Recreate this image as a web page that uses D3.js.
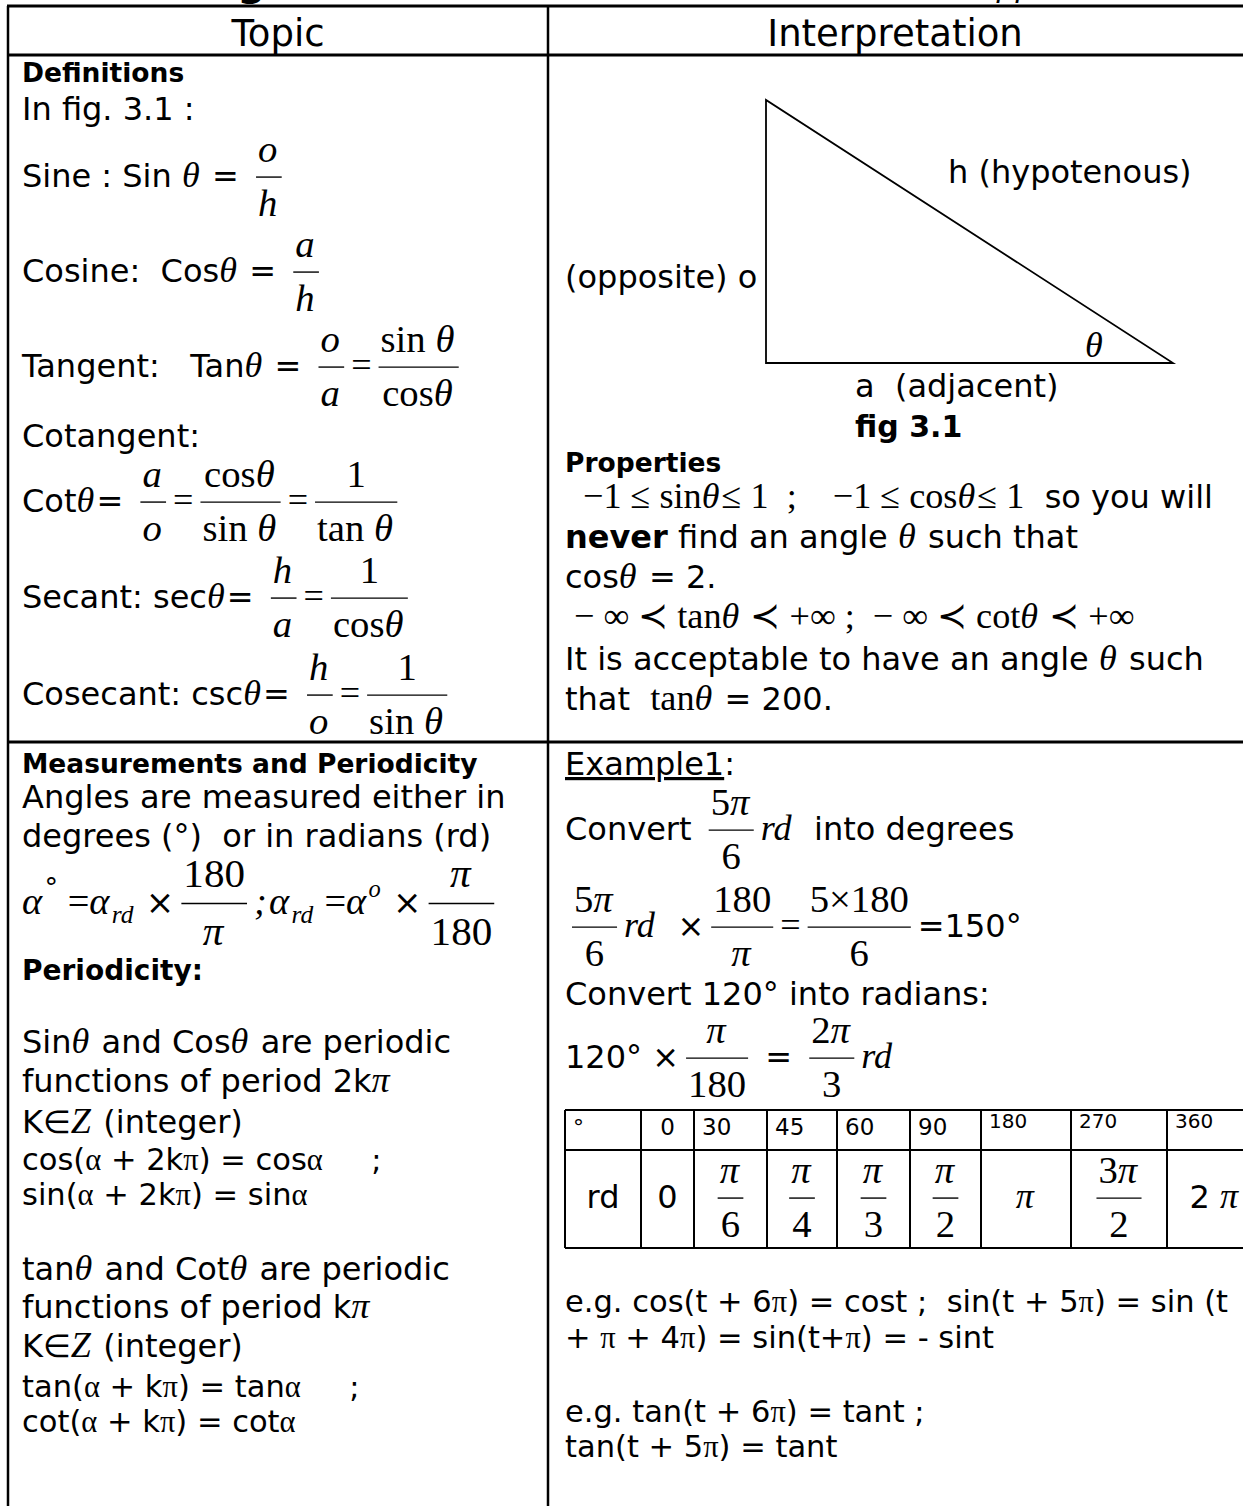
<!DOCTYPE html>
<html>
<head>
<meta charset="utf-8">
<script src="https://cdn.jsdelivr.net/npm/d3@7"></script>
<style>
  body { margin: 0; background: #fff; }
</style>
</head>
<body>
<script>
var W = 1243, H = 1506;

// token helpers
var I = function (t) { return {t: t, f: 'it'}; };     // math italic
var R = function (t) { return {t: t, f: 'rm'}; };     // math roman
var B = function (t) { return {t: t, f: 'b'}; };      // bold text
var U = function (t) { return {t: t, f: 'u'}; };      // underlined text
var Y = function (t) { return {t: t, f: 'sym'}; };    // symbol greek in text
var SUB = function (t) { return {t: t, f: 'sub'}; };
var SUPI = function (t) { return {t: t, f: 'supi'}; };
var SUP = function (t) { return {t: t, f: 'sup'}; };
var F = function (num, den) { return {num: num, den: den}; };

// ---- content ----
var pageTitle = ['Trigonometric', 'Applied'];
var headers = ['Topic', 'Interpretation'];

var definitionLines = [
  ['Definitions'],
  ['In fig. 3.1 :'],
  ['Sine : Sin ', I('θ'), ' = ', F([I('o')], [I('h')])],
  ['Cosine:  Cos', I('θ'), ' = ', F([I('a')], [I('h')])],
  ['Tangent:   Tan', I('θ'), ' = ', F([I('o')], [I('a')]), R('='), F([R('sin '), I('θ')], [R('cos'), I('θ')])],
  ['Cotangent:'],
  ['Cot', I('θ'), '= ', F([I('a')], [I('o')]), R('='), F([R('cos'), I('θ')], [R('sin '), I('θ')]), R('='), F([R('1')], [R('tan '), I('θ')])],
  ['Secant: sec', I('θ'), '= ', F([I('h')], [I('a')]), R('='), F([R('1')], [R('cos'), I('θ')])],
  ['Cosecant: csc', I('θ'), '= ', F([I('h')], [I('o')]), R('='), F([R('1')], [R('sin '), I('θ')])]
];

var periodLines = [
  ['Measurements and Periodicity'],
  ['Angles are measured either in'],
  ['degrees (°)  or in radians (rd)'],
  [I('α'), SUP('°'), R(' ='), I('α'), SUB('rd'), ' ×', F([R('180')], [I('π')]), I(';'), I('α'), SUB('rd'), R(' ='), I('α'), SUPI('o'), ' ×', F([I('π')], [R('180')])],
  ['Periodicity:'],
  ['Sin', I('θ'), ' and Cos', I('θ'), ' are periodic'],
  ['functions of period 2k', I('π')],
  ['K∈', I('Z'), ' (integer)'],
  ['cos(', Y('α'), ' + 2k', Y('π'), ') = cos', Y('α'), '     ;'],
  ['sin(', Y('α'), ' + 2k', Y('π'), ') = sin', Y('α')],
  ['tan', I('θ'), ' and Cot', I('θ'), ' are periodic'],
  ['functions of period k', I('π')],
  ['K∈', I('Z'), ' (integer)'],
  ['tan(', Y('α'), ' + k', Y('π'), ') = tan', Y('α'), '     ;'],
  ['cot(', Y('α'), ' + k', Y('π'), ') = cot', Y('α')]
];

var figureLabels = ['h (hypotenous)', '(opposite) o', 'θ', 'a  (adjacent)', 'fig 3.1'];
var triangle = [[0, 1], [0, 0], [1, 0]];   // opposite side up, adjacent side right

var propertyLines = [
  ['Properties'],
  [R('  −1 ≤ sin'), I('θ'), R('≤ 1  ;    −1 ≤ cos'), I('θ'), R('≤ 1'), '  so you will'],
  [B('never'), ' find an angle ', I('θ'), ' such that'],
  ['cos', I('θ'), ' = 2.'],
  [R(' − ∞ ≺ tan'), I('θ'), R(' ≺ +∞ ;  − ∞ ≺ cot'), I('θ'), R(' ≺ +∞')],
  ['It is acceptable to have an angle ', I('θ'), ' such'],
  ['that  ', R('tan'), I('θ'), ' = 200.']
];

var exampleLines = [
  [U('Example1'), ':'],
  ['Convert ', F([R('5'), I('π')], [R('6')]), I('rd'), '  into degrees'],
  [F([R('5'), I('π')], [R('6')]), I('rd'), '  ×', F([R('180')], [I('π')]), R('='), F([R('5×180')], [R('6')]), '=150°'],
  ['Convert 120° into radians:'],
  ['120° ×', F([I('π')], [R('180')]), ' = ', F([R('2'), I('π')], [R('3')]), I('rd')]
];

var degreeRow = ['°', '0', '30', '45', '60', '90', '180', '270', '360'];
var radianRow = [
  ['rd'], ['0'],
  [F([I('π')], [R('6')])], [F([I('π')], [R('4')])], [F([I('π')], [R('3')])], [F([I('π')], [R('2')])],
  [I('π')], [F([R('3'), I('π')], [R('2')])], ['2 ', I('π')]
];

var noteLines = [
  ['e.g. cos(t + 6', Y('π'), ') = cost ;  sin(t + 5', Y('π'), ') = sin (t'],
  ['+ ', Y('π'), ' + 4', Y('π'), ') = sin(t+', Y('π'), ') = - sint'],
  ['e.g. tan(t + 6', Y('π'), ') = tant ;'],
  ['tan(t + 5', Y('π'), ') = tant']
];

// ---- styles ----
var SANS = "'DejaVu Sans', Verdana, sans-serif";
var SERIF = "'Liberation Serif', 'Times New Roman', serif";
var STY = {
  sans: {fam: SANS, k: 1},
  b: {fam: SANS, k: 1, w: 'bold'},
  u: {fam: SANS, k: 1, u: true},
  it: {fam: SERIF, k: 1.13, i: true},
  rm: {fam: SERIF, k: 1.13},
  sym: {fam: SERIF, k: 1.0},
  sub: {fam: SERIF, k: 0.75, i: true, dy: 0.25},
  supi: {fam: SERIF, k: 0.72, i: true, dy: -0.5},
  sup: {fam: SANS, k: 0.8, dy: -0.5}
};
var FR_PAD = 2, EQ_PAD = 7, FR_K = 1.07;

var svg = d3.select('body').append('svg')
  .attr('width', W)
  .attr('height', H);

// lays a run of tokens out from x=0 on baseline 0, returns group + width
function seq(parent, toks, size, def, fk) {
  var g = parent.append('g');
  var x = 0;
  fk = fk || 1;
  toks.forEach(function (tk) {
    if (typeof tk === 'string') tk = {t: tk, f: def};
    if (tk.num) {
      var n = seq(g, tk.num, size, def, FR_K), d = seq(g, tk.den, size, def, FR_K);
      var w = Math.max(n.w, d.w) + 2 * FR_PAD;
      x += EQ_PAD;
      n.g.attr('transform', 'translate(' + (x + (w - n.w) / 2) + ',' + (-0.78 * size) + ')');
      d.g.attr('transform', 'translate(' + (x + (w - d.w) / 2) + ',' + (0.9 * size) + ')');
      g.append('line')
        .attr('x1', x).attr('x2', x + w)
        .attr('y1', -0.31 * size).attr('y2', -0.31 * size)
        .attr('stroke', '#000').attr('stroke-width', 1.4);
      x += w + EQ_PAD;
      return;
    }
    var s = STY[tk.f], fs = s.k * size * (s.fam === SERIF ? fk : 1);
    var t = g.append('text')
      .attr('x', x)
      .attr('y', (s.dy || 0) * size)
      .attr('font-family', s.fam)
      .attr('font-size', fs)
      .attr('font-style', s.i ? 'italic' : null)
      .attr('font-weight', s.w || null)
      .attr('text-decoration', s.u ? 'underline' : null)
      .style('white-space', 'pre')
      .text(tk.t);
    x += t.node().getComputedTextLength() + (s.i ? 0.06 * fs : 0);
  });
  return {g: g, w: x};
}

function block(lines, layout, x0) {
  lines.forEach(function (ln, i) {
    var L = layout[i];
    var r = seq(svg, ln, L.s, L.h ? 'b' : 'sans');
    r.g.attr('transform', 'translate(' + (x0 + (L.dx || 0)) + ',' + L.y + ')');
  });
}

// ---- page title (cropped at the top edge) ----
svg.append('text').attr('x', 181).attr('y', -5)
  .attr('font-family', SANS).attr('font-weight', 'bold').attr('font-size', 40)
  .text(pageTitle[0]);
svg.append('text').attr('x', 976).attr('y', -3)
  .attr('font-family', SANS).attr('font-style', 'italic').attr('font-size', 30)
  .text(pageTitle[1]);

// ---- grid ----
var colX = [8, 548];
var rowY = [6, 55, 742];
var grid = svg.append('g').attr('stroke', '#000');
rowY.forEach(function (y) {
  grid.append('line').attr('x1', 7).attr('x2', W).attr('y1', y).attr('y2', y).attr('stroke-width', 3);
});
colX.forEach(function (x) {
  grid.append('line').attr('x1', x).attr('x2', x).attr('y1', rowY[0]).attr('y2', H).attr('stroke-width', 2.5);
});

// header
svg.selectAll('text.hdr').data(headers).enter().append('text')
  .attr('class', 'hdr')
  .attr('x', function (d, i) { return i === 0 ? 278 : 895; })
  .attr('y', 46)
  .attr('text-anchor', 'middle')
  .attr('font-family', SANS)
  .attr('font-size', 37)
  .text(function (d) { return d; });

// ---- left column ----
var body = 32, head = 26.5, small = 30.5;
block(definitionLines, [
  {y: 82, s: head, h: 1}, {y: 120, s: body}, {y: 187, s: body}, {y: 282, s: body},
  {y: 377, s: body}, {y: 447, s: body}, {y: 512, s: body}, {y: 608, s: body}, {y: 705, s: body}
], 22);

block(periodLines, [
  {y: 773, s: head, h: 1}, {y: 808, s: body}, {y: 847, s: body}, {y: 914, s: 34},
  {y: 980, s: 28, h: 1}, {y: 1053, s: body}, {y: 1092, s: body}, {y: 1133, s: body},
  {y: 1170, s: small}, {y: 1205, s: small}, {y: 1280, s: body}, {y: 1318, s: body},
  {y: 1357, s: body}, {y: 1397, s: small}, {y: 1432, s: small}
], 22);

// ---- right column: figure 3.1 ----
var tx = d3.scaleLinear().domain([0, 1]).range([766, 1173]);
var ty = d3.scaleLinear().domain([0, 1]).range([363, 100]);
svg.append('path')
  .datum(triangle)
  .attr('d', d3.line().x(function (d) { return tx(d[0]); }).y(function (d) { return ty(d[1]); }).curve(d3.curveLinearClosed))
  .attr('fill', 'none')
  .attr('stroke', '#000')
  .attr('stroke-width', 1.8);

var labelPos = [
  {x: 948, y: 183, f: 'sans', s: 32},
  {x: 565, y: 288, f: 'sans', s: 32},
  {x: 1085, y: 357, f: 'it', s: 32},
  {x: 855, y: 397, f: 'sans', s: 32},
  {x: 855, y: 437, f: 'b', s: 30}
];
figureLabels.forEach(function (lab, i) {
  var p = labelPos[i];
  seq(svg, [{t: lab, f: p.f}], p.s, 'sans').g
    .attr('transform', 'translate(' + p.x + ',' + p.y + ')');
});

block(propertyLines, [
  {y: 472, s: head, h: 1}, {y: 508, s: body}, {y: 548, s: body}, {y: 588, s: body},
  {y: 628, s: body}, {y: 670, s: body}, {y: 710, s: body}
], 565);

// ---- right column: examples ----
block(exampleLines, [
  {y: 775, s: body}, {y: 840, s: body}, {y: 937, s: body}, {y: 1005, s: body}, {y: 1068, s: body}
], 565);

// conversion table
var colW = [76, 53, 73, 70, 73, 71, 90, 96, 96];
var edges = [565].concat(Array.from(d3.cumsum(colW), function (v) { return 565 + v; }));
var tRows = [1110, 1150, 1248];
var tg = svg.append('g').attr('stroke', '#000').attr('stroke-width', 2);
tRows.forEach(function (y) {
  tg.append('line').attr('x1', edges[0]).attr('x2', edges[edges.length - 1]).attr('y1', y).attr('y2', y);
});
edges.forEach(function (x) {
  tg.append('line').attr('x1', x).attr('x2', x).attr('y1', tRows[0]).attr('y2', tRows[2]);
});

degreeRow.forEach(function (d, i) {
  var big = i >= 6;
  var fs = d === '°' ? 22 : (big ? 20 : 23);
  var r = seq(svg, [d], fs, 'sans');
  var x = colW[i] < 60 ? edges[i] + (colW[i] - r.w) / 2 : edges[i] + 8;
  r.g.attr('transform', 'translate(' + x + ',' + (big ? 1128 : 1135) + ')');
});
radianRow.forEach(function (cell, i) {
  var r = seq(svg, cell, 32, 'sans');
  r.g.attr('transform', 'translate(' + (edges[i] + (colW[i] - r.w) / 2) + ',1208)');
});

block(noteLines, [
  {y: 1312, s: small}, {y: 1348, s: small}, {y: 1422, s: small}, {y: 1457, s: small}
], 565);
</script>
</body>
</html>
